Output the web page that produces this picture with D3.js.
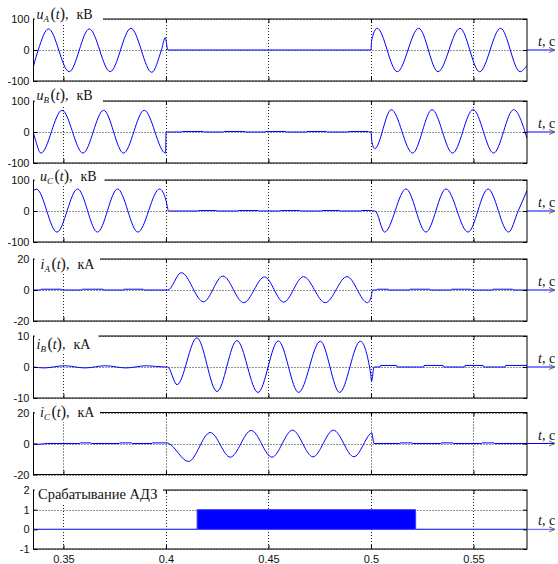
<!DOCTYPE html>
<html><head><meta charset="utf-8">
<script src="https://cdn.jsdelivr.net/npm/d3@7"></script>
<style>body{margin:0;background:#fff}svg{display:block}</style>
</head><body>
<svg id="c" width="558" height="564"></svg>
<script>
// ---------------- DATA ----------------
const xTicks = [0.35, 0.4, 0.45, 0.5, 0.55];
const xTickLabels = ["0.35", "0.4", "0.45", "0.5", "0.55"];
const xDomain = [0.3354, 0.5761];

const uTicks = [-100, 0, 100];
const iATicks = [-20, 0, 20];
const iBTicks = [-10, 0, 10];
const iCTicks = [-20, 0, 20];
const adzTicks = [-1, 0, 1, 2];

const uA = [[0.3354,-52],[0.3377,0],[0.3427,68],[0.3528,-70],[0.3626,68],[0.3728,-70],[0.3829,70],[0.3931,-72],[0.3978,0],[0.3997,40],[0.4009,0],
  [0.5000,0],[0.5003,30],[0.5030,70],[0.5128,-70],[0.5233,70],[0.5327,-70],[0.5434,70],[0.5530,-70],[0.5632,70],[0.5727,-70],[0.5761,-50]];

const uB = [[0.3354,-3],[0.3362,-22],[0.3390,-68],[0.3493,70],[0.3595,-68],[0.3696,70],[0.3793,-68],[0.3894,70],[0.3998,-68],[0.4001,0],
  [0.4078,0],[0.4080,1.5],[0.4182,1.5],[0.4184,0],[0.4281,0],[0.4283,1.5],[0.4385,1.5],[0.4387,0],[0.4483,0],[0.4485,1.5],[0.4585,1.5],[0.4587,0],
  [0.4686,0],[0.4688,1.5],[0.4783,1.5],[0.4785,0],[0.4889,0],[0.4891,1.5],[0.4986,1.5],[0.4988,0],
  [0.5000,0],[0.5004,-30],[0.5018,-54],[0.5099,72],[0.5203,-68],[0.5298,72],[0.5398,-68],[0.5498,72],[0.5598,-68],[0.5696,72],[0.5761,-20]];

const uC = [[0.3354,67],[0.3369,70],[0.3468,-68],[0.3569,71],[0.3666,-68],[0.3764,71],[0.3863,-68],[0.3969,71],[0.4000,35],[0.4013,0],
  [0.4157,0],[0.4159,1.5],[0.4247,1.5],[0.4249,0],[0.4352,0],[0.4354,1.5],[0.4450,1.5],[0.4452,0],[0.4556,0],[0.4558,1.5],[0.4653,1.5],[0.4655,0],
  [0.4759,0],[0.4761,1.5],[0.4848,1.5],[0.4850,0],[0.4951,0],[0.4953,1.5],[0.5003,1.5],[0.5005,0],
  [0.5020,0],[0.5066,-68],[0.5171,71],[0.5268,-68],[0.5366,71],[0.5473,-68],[0.5571,71],[0.5671,-68],[0.5718,0],[0.5761,66]];

const iA = [[0.3354,0],[0.3388,0],[0.3390,0.5],[0.3491,0.5],[0.3493,0],[0.3590,0],[0.3592,0.5],[0.3694,0.5],[0.3696,0],[0.3793,0],[0.3795,0.5],[0.3889,0.5],[0.3891,0],[0.4009,0],
  [0.4075,11.2],[0.4183,-7.6],[0.4278,9],[0.4379,-8.2],[0.4481,8.4],[0.4574,-7.8],[0.4671,8.6],[0.4777,-8.2],[0.4883,8.6],[0.4983,-8.2],[0.5000,-5],[0.5008,0],
  [0.5029,0],[0.5031,0.5],[0.5084,0.5],[0.5086,0],[0.5188,0],[0.5190,0.5],[0.5287,0.5],[0.5289,0],[0.5392,0],[0.5394,0.5],[0.5486,0.5],[0.5488,0],
  [0.5593,0],[0.5595,0.5],[0.5691,0.5],[0.5693,0],[0.5761,0]];

const iB = [[0.3354,0],[0.3405,-0.3],[0.3505,0.4],[0.3605,-0.3],[0.3705,0.4],[0.3805,-0.3],[0.3905,0.4],[0.3995,0],[0.4008,0],
  [0.4054,-5.7],[0.4151,9.4],[0.4249,-7.9],[0.4346,8.5],[0.4449,-8.2],[0.4548,8.4],[0.4647,-8.2],[0.4753,8.3],[0.4847,-8.2],[0.4948,8.3],[0.4998,-2],[0.5003,-4.5],[0.5015,0],
  [0.5045,0],[0.5047,0.5],[0.5125,0.5],[0.5127,0],[0.5257,0],[0.5259,0.5],[0.5352,0.5],[0.5354,0],[0.5457,0],[0.5459,0.5],[0.5547,0.5],[0.5549,0],
  [0.5655,0],[0.5657,0.5],[0.5761,0.5]];

const iC = [[0.3354,-0.6],[0.3400,-0.3],[0.3420,0],[0.3579,0],[0.3581,0.4],[0.3634,0.4],[0.3636,0],[0.3772,0],[0.3774,0.4],[0.3834,0.4],[0.3836,0],
  [0.3932,0],[0.3934,0.4],[0.4003,0.4],[0.4013,0],
  [0.4110,-11.6],[0.4216,7.1],[0.4314,-8.8],[0.4416,8.4],[0.4517,-8.8],[0.4617,8.6],[0.4717,-8.6],[0.4817,8.6],[0.4917,-8.6],[0.4998,6.5],[0.5003,7],[0.5015,0],
  [0.5140,0],[0.5142,0.4],[0.5200,0.4],[0.5202,0],[0.5340,0],[0.5342,0.4],[0.5400,0.4],[0.5402,0],[0.5540,0],[0.5542,0.4],[0.5600,0.4],[0.5602,0],[0.5761,0]];

const adz = [[0.3354,0],[0.4152,0],[0.4152,1],[0.5218,1],[0.5218,0],[0.5761,0]];

const labels = [
  {v:"u", s:"A", unit:"кВ"},
  {v:"u", s:"B", unit:"кВ"},
  {v:"u", s:"C", unit:"кВ"},
  {v:"i", s:"A", unit:"кА"},
  {v:"i", s:"B", unit:"кА"},
  {v:"i", s:"C", unit:"кА"},
  {plain:"Срабатывание АДЗ"}
];
const axisLabelT = "t";
const axisLabelUnit = ", с";

// ---------------- LAYOUT ----------------
const layout = [
  {top:19,    bottom:81,    base:18.5,  lx:36.5, boxEnd:103},
  {top:101,   bottom:163,   base:100,   lx:36.5, boxEnd:103},
  {top:180,   bottom:242,   base:180.5, lx:40,   boxEnd:104.5},
  {top:259,   bottom:321,   base:269,   lx:40.5, boxEnd:100},
  {top:336,   bottom:398,   base:348.5, lx:36.5, boxEnd:98.5},
  {top:412.5, bottom:474.5, base:417,   lx:40,   boxEnd:100},
  {top:490,   bottom:549,   base:498.5, lx:38,   boxEnd:163}
];
const panels = [
  {data:uA, yDomain:[-100,100], ticks:uTicks},
  {data:uB, yDomain:[-100,100], ticks:uTicks},
  {data:uC, yDomain:[-100,100], ticks:uTicks},
  {data:iA, yDomain:[-20,20], ticks:iATicks},
  {data:iB, yDomain:[-10,10], ticks:iBTicks},
  {data:iC, yDomain:[-20,20], ticks:iCTicks},
  {data:adz, yDomain:[-1,2], ticks:adzTicks, step:true}
];

const BLUE = "#0000ff";
const svg = d3.select("#c");
const x = d3.scaleLinear().domain(xDomain).range([33.5, 527]);
const [X0, X1] = x.range();
const serif = "'Liberation Serif','Times New Roman',serif";
const sans = "'Liberation Sans',Arial,Helvetica,sans-serif";

panels.forEach((p, i) => {
  const L = layout[i];
  const y = d3.scaleLinear().domain(p.yDomain).range([L.bottom, L.top]);
  const g = svg.append("g");
  const cid = "clip" + i;
  svg.append("clipPath").attr("id", cid).append("rect")
    .attr("x", X0).attr("y", L.top).attr("width", X1 - X0).attr("height", L.bottom - L.top);

  // grid
  g.append("g").selectAll("line").data(xTicks).join("line")
    .attr("x1", d => Math.round(x(d)) + 0.5).attr("x2", d => Math.round(x(d)) + 0.5)
    .attr("y1", L.top).attr("y2", L.bottom)
    .attr("stroke", "#222").attr("stroke-dasharray", "1,2").attr("stroke-width", 1);
  g.append("g").selectAll("line").data(p.ticks).join("line")
    .attr("x1", X0).attr("x2", X1)
    .attr("y1", d => Math.round(y(d)) + 0.5).attr("y2", d => Math.round(y(d)) + 0.5)
    .attr("stroke", "#222").attr("stroke-dasharray", "1,2").attr("stroke-width", 1);

  // traces
  if (p.step) {
    const area = d3.area().x(d => x(d[0])).y0(y(0)).y1(d => y(d[1])).curve(d3.curveLinear);
    g.append("path").datum(p.data).attr("clip-path", `url(#${cid})`)
      .attr("d", area).attr("fill", BLUE).attr("stroke", "#3a3aff").attr("stroke-width", 1);
  } else {
    const line = d3.line().x(d => x(d[0])).y(d => y(d[1])).curve(d3.curveMonotoneX);
    g.append("path").datum(p.data).attr("clip-path", `url(#${cid})`)
      .attr("d", line).attr("fill", "none").attr("stroke", BLUE).attr("stroke-width", 1);
  }

  // axes (inward ticks)
  const yL = d3.axisLeft(y).tickValues(p.ticks).tickFormat(d => String(d))
    .tickSizeInner(-4).tickSizeOuter(0).tickPadding(4);
  const yR = d3.axisRight(y).tickValues(p.ticks).tickSizeInner(-4).tickSizeOuter(0).tickFormat("");
  const xB = d3.axisBottom(x).tickValues(xTicks).tickSizeInner(-4).tickSizeOuter(0)
    .tickFormat(i === panels.length - 1 ? ((d, k) => xTickLabels[k]) : "").tickPadding(6);
  const xT = d3.axisTop(x).tickValues(xTicks).tickSizeInner(-4).tickSizeOuter(0).tickFormat("");
  const styleAxis = s => {
    s.select(".domain").remove();
    s.selectAll("line").attr("stroke", "#000");
    s.selectAll("text").attr("font-family", sans).attr("font-size", 11).attr("fill", "#111");
  };
  g.append("g").attr("transform", `translate(${X0},0)`).call(yL).call(styleAxis);
  g.append("g").attr("transform", `translate(${X1},0)`).call(yR).call(styleAxis);
  g.append("g").attr("transform", `translate(0,${L.bottom})`).call(xB).call(styleAxis);
  g.append("g").attr("transform", `translate(0,${L.top})`).call(xT).call(styleAxis);

  // box
  g.append("rect").attr("x", X0).attr("y", L.top).attr("width", X1 - X0).attr("height", L.bottom - L.top)
    .attr("fill", "none").attr("stroke", "#000").attr("stroke-width", 1);

  // time axis extension and arrow
  const y0 = y(0);
  g.append("line").attr("x1", X1).attr("x2", 554).attr("y1", y0).attr("y2", y0)
    .attr("stroke", i === panels.length - 1 ? "#5050ff" : BLUE).attr("stroke-width", 1);
  g.append("path").attr("d", `M549,${y0 - 2.5}L555,${y0}L549,${y0 + 2.5}`)
    .attr("fill", "none").attr("stroke", "#444").attr("stroke-width", 0.8);
  const tt = g.append("text").attr("x", 538).attr("y", y0 - 4)
    .attr("font-family", serif).attr("font-size", 14).attr("fill", "#111");
  tt.append("tspan").attr("font-style", "italic").text(axisLabelT);
  tt.append("tspan").text(axisLabelUnit);

  // panel label with white background
  const lab = labels[i];
  const ry = Math.min(L.top - 2, L.base - 13);
  g.append("rect").attr("x", X0 + 1).attr("y", ry).attr("width", L.boxEnd - X0 - 1)
    .attr("height", L.base + 5 - ry).attr("fill", "#fff");
  const t = g.append("text").attr("x", L.lx).attr("y", L.base)
    .attr("font-family", serif).attr("font-size", 14).attr("fill", "#111");
  if (lab.plain) {
    t.attr("font-size", 14.5).text(lab.plain);
  } else {
    t.append("tspan").attr("font-style", "italic").text(lab.v);
    t.append("tspan").attr("font-style", "italic").attr("font-size", 9).attr("dy", 3).text(lab.s);
    t.append("tspan").attr("dy", -3).attr("dx", 1.5).attr("font-size", 16).text("(");
    t.append("tspan").attr("font-style", "italic").text("t");
    t.append("tspan").attr("font-size", 16).text(")");
    t.append("tspan").text(",");
    t.append("tspan").attr("dx", 8).text(lab.unit);
  }
});
</script>
</body></html>
